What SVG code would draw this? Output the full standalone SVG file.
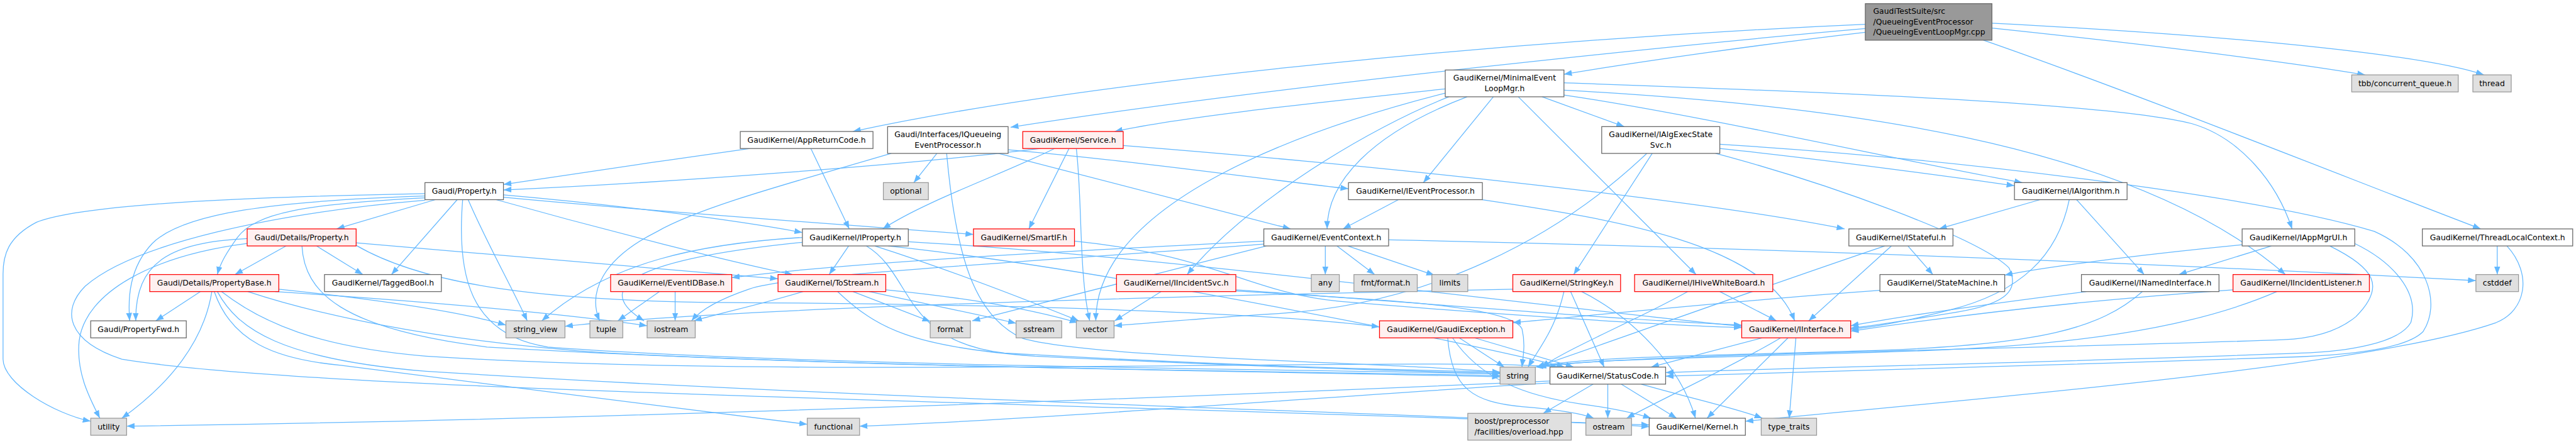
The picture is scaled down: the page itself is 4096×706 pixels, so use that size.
<svg xmlns="http://www.w3.org/2000/svg" width="4096" height="706" viewBox="0 0 4096 706">
<style>
.e{fill:none;stroke:#63b8ff;stroke-width:1.3;marker-end:url(#a)}
.n rect{fill:#fff;stroke:#666;stroke-width:1.3}
.g rect{fill:#e0e0e0;stroke:#999;stroke-width:1.3}
.r rect{fill:#fff0f0;stroke:#f00;stroke-width:1.3}
.t rect{fill:#999;stroke:#666;stroke-width:1.3}
text{font-family:"DejaVu Sans",Verdana,sans-serif;font-size:12.8px;fill:#000;text-anchor:middle}
.l text{text-anchor:start}
</style>
<defs>
<marker id="a" markerUnits="userSpaceOnUse" markerWidth="13" markerHeight="10" refX="12" refY="4.5" orient="auto" viewBox="0 0 12 9"><path d="M0,0L12,4.5L0,9z" fill="#63b8ff"/></marker>
</defs>
<rect width="4096" height="706" fill="#fff"/>
<g transform="scale(0.968)">
<g id="edges">
<path class="e" d="M3064,40 C2500,65 1800,130 1401,216"/>
<path class="e" d="M3064,47 C2800,70 2100,140 1660,209"/>
<path class="e" d="M3064,53 C2900,72 2700,100 2569,122"/>
<path class="e" d="M3272,46 C3500,70 3750,100 3885,123"/>
<path class="e" d="M3272,38 C3700,60 3990,92 4080,123"/>
<path class="e" d="M3258,66 C3500,150 3850,290 4075,376"/>
<path class="e" d="M2374,146 C2200,165 1950,190 1831,216"/>
<path class="e" d="M2374,153 C2150,210 1800,330 1800,527"/>
<path class="e" d="M2380,159 C2250,210 2050,330 1950,451"/>
<path class="e" d="M2410,159 C2250,220 2180,300 2180,376"/>
<path class="e" d="M2453,159 L2338,300"/>
<path class="e" d="M2494,159 L2786,451"/>
<path class="e" d="M2533,159 L2668,208"/>
<path class="e" d="M2569,136 C2900,148 3450,166 3600,203 C3680,226 3740,300 3765,376"/>
<path class="e" d="M2569,148 C3000,172 3500,230 3754,451"/>
<path class="e" d="M2569,156 C2800,190 3150,270 3322,300"/>
<path class="e" d="M1232,244 C1100,262 950,285 827,303"/>
<path class="e" d="M1332,244 L1395,376"/>
<path class="e" d="M1539,252 L1501,300"/>
<path class="e" d="M1464,252 C1300,300 1150,340 1080,380 C990,425 965,480 985,527"/>
<path class="e" d="M1640,252 L2120,376"/>
<path class="e" d="M1656,246 C1900,268 2100,298 2215,310"/>
<path class="e" d="M1555,252 C1570,420 1600,520 1680,556 C1800,590 2300,595 2464,612"/>
<path class="e" d="M1709,244 C1500,270 1100,300 827,312"/>
<path class="e" d="M1732,244 C1650,285 1520,330 1450,376"/>
<path class="e" d="M1756,244 L1690,376"/>
<path class="e" d="M1768,244 C1778,330 1772,450 1790,527"/>
<path class="e" d="M1845,239 C2300,275 2800,330 3030,376"/>
<path class="e" d="M715,328 L553,376"/>
<path class="e" d="M751,328 L643,451"/>
<path class="e" d="M769,328 C800,400 840,470 866,527"/>
<path class="e" d="M760,328 C750,450 770,550 900,570 C1300,600 2000,605 2464,614"/>
<path class="e" d="M698,318 C500,322 150,330 60,365 C12,390 5,420 5,450 L5,590 C5,630 90,680 149,692"/>
<path class="e" d="M698,322 C450,330 300,350 250,400 C212,440 210,490 213,527"/>
<path class="e" d="M698,325 C500,335 420,350 390,390 C372,415 362,432 357,451"/>
<path class="e" d="M698,329 C450,350 220,400 140,470 C100,510 110,560 200,590 C500,640 1500,655 2709,698"/>
<path class="e" d="M827,320 C1000,335 1200,360 1318,382"/>
<path class="e" d="M827,324 C1100,350 1400,370 1599,385"/>
<path class="e" d="M815,328 C1000,380 1200,430 1302,451"/>
<path class="e" d="M470,404 L386,451"/>
<path class="e" d="M406,392 C280,398 222,430 223,527"/>
<path class="e" d="M406,400 C250,420 140,480 130,560 C125,610 145,650 164,687"/>
<path class="e" d="M520,404 L596,451"/>
<path class="e" d="M496,404 C500,480 560,540 800,570 C1400,605 2000,608 2464,617"/>
<path class="e" d="M585,399 C900,425 1150,445 1278,458"/>
<path class="e" d="M585,403 C700,470 900,495 1200,497 C1700,500 2100,515 2266,537"/>
<path class="e" d="M329,479 L256,527"/>
<path class="e" d="M348,479 C335,560 280,630 200,687"/>
<path class="e" d="M458,475 C600,490 750,510 831,534"/>
<path class="e" d="M452,479 C650,492 900,512 1063,535"/>
<path class="e" d="M407,479 C500,510 700,560 1000,580 C1500,605 2100,610 2464,619"/>
<path class="e" d="M364,479 C430,530 520,570 700,585 C1300,625 2350,585 2560,603"/>
<path class="e" d="M357,479 C390,540 460,590 700,610 C1500,660 2400,680 2709,701"/>
<path class="e" d="M352,479 C380,560 450,590 560,600 C800,630 1100,670 1326,697"/>
<path class="e" d="M1109,479 L1109,527"/>
<path class="e" d="M1083,479 L1015,527"/>
<path class="e" d="M1319,479 C1250,500 1180,515 1140,527"/>
<path class="e" d="M1401,479 L1528,528"/>
<path class="e" d="M1428,479 C1500,495 1600,515 1669,531"/>
<path class="e" d="M1455,476 C1600,490 1700,510 1770,530"/>
<path class="e" d="M1376,479 C1440,540 1500,570 1700,585 C2000,600 2300,610 2464,613"/>
<path class="e" d="M1394,404 L1362,451"/>
<path class="e" d="M1318,390 C1150,400 1000,430 890,527"/>
<path class="e" d="M1318,398 C1100,420 950,460 1058,527"/>
<path class="e" d="M1437,404 C1550,440 1680,490 1772,527"/>
<path class="e" d="M1459,404 C1800,440 2400,560 2570,603"/>
<path class="e" d="M1423,404 C1500,450 1480,560 1650,580 C2000,600 2300,608 2464,611"/>
<path class="e" d="M1492,397 C1900,420 2500,500 2861,536"/>
<path class="e" d="M1765,396 C2000,420 2050,480 2200,495 C2500,520 2750,535 2861,538"/>
<path class="e" d="M2177,404 L2177,451"/>
<path class="e" d="M2196,404 L2258,451"/>
<path class="e" d="M2214,404 L2356,452"/>
<path class="e" d="M2076,396 C1800,410 1400,430 1202,456"/>
<path class="e" d="M2076,401 C1700,430 1300,450 1230,475 C1180,492 1150,510 1136,527"/>
<path class="e" d="M2080,404 C1900,450 1700,500 1597,527"/>
<path class="e" d="M2281,394 C2800,405 3500,430 4067,461"/>
<path class="e" d="M2297,328 L2206,376"/>
<path class="e" d="M2435,328 C2650,360 2900,400 2948,527"/>
<path class="e" d="M3411,328 L3522,451"/>
<path class="e" d="M3351,328 L3185,376"/>
<path class="e" d="M3399,328 C3380,420 3320,480 3200,510 C3120,530 3080,537 3040,541"/>
<path class="e" d="M3134,404 L3175,451"/>
<path class="e" d="M3107,404 L2971,527"/>
<path class="e" d="M3096,404 C2900,470 2650,560 2524,603"/>
<path class="e" d="M3088,477 C2900,490 2700,510 2485,530"/>
<path class="e" d="M3427,479 C3300,495 3150,515 3040,535"/>
<path class="e" d="M3519,479 C3450,540 3350,565 3100,575 C2800,585 2600,585 2524,603"/>
<path class="e" d="M3668,476 C3400,495 3200,520 3040,544"/>
<path class="e" d="M3740,479 C3600,540 3400,570 3100,578 C2800,588 2600,590 2527,603"/>
<path class="e" d="M3731,404 L3579,451"/>
<path class="e" d="M3683,402 C3500,420 3350,440 3293,452"/>
<path class="e" d="M3827,404 C3900,440 3920,470 3870,520 C3840,545 3800,556 3750,558 C3300,575 2700,580 2522,603"/>
<path class="e" d="M3868,400 C3930,430 3975,480 3960,530 C3940,565 3850,578 3780,580 C3400,595 2900,605 2736,612"/>
<path class="e" d="M2825,237 C3200,260 3700,320 3900,380 C3990,420 4010,500 3980,545 C3950,575 3850,583 3780,586 C3400,600 2900,612 2736,618"/>
<path class="e" d="M2705,252 C2560,390 2350,500 2100,515 C1980,522 1900,530 1830,535"/>
<path class="e" d="M2714,252 L2585,451"/>
<path class="e" d="M2825,244 C3000,262 3200,290 3309,305"/>
<path class="e" d="M2818,252 C3000,300 3250,390 3300,440 C3320,480 3290,502 3200,515 C3120,528 3080,535 3040,539"/>
<path class="e" d="M4102,404 L4102,451"/>
<path class="e" d="M4118,404 C4160,450 4150,510 4100,530 C3900,600 3300,650 2867,692"/>
<path class="e" d="M2397,555 L2471,603"/>
<path class="e" d="M2422,555 L2585,603"/>
<path class="e" d="M2378,555 C2385,640 2420,660 2500,668 C2560,673 2600,680 2618,687"/>
<path class="e" d="M2386,555 C2430,620 2500,650 2600,664 C2650,671 2690,680 2712,687"/>
<path class="e" d="M2569,479 C2555,540 2530,570 2510,603"/>
<path class="e" d="M2580,479 L2635,603"/>
<path class="e" d="M2598,479 C2680,520 2760,600 2785,687"/>
<path class="e" d="M2485,475 C2000,485 1200,505 928,536"/>
<path class="e" d="M2825,479 L2918,527"/>
<path class="e" d="M2772,479 C2700,520 2580,570 2532,603"/>
<path class="e" d="M1907,479 L1831,527"/>
<path class="e" d="M2030,476 C2300,495 2650,525 2861,534"/>
<path class="e" d="M2030,478 C2250,492 2480,500 2500,540 C2506,565 2502,585 2500,603"/>
<path class="e" d="M2895,555 L2712,603"/>
<path class="e" d="M2925,555 C2850,600 2720,660 2672,687"/>
<path class="e" d="M2937,555 L2804,687"/>
<path class="e" d="M2950,555 L2939,687"/>
<path class="e" d="M2617,631 L2535,679"/>
<path class="e" d="M2641,631 L2641,687"/>
<path class="e" d="M2663,631 L2754,687"/>
<path class="e" d="M2696,631 C2780,655 2850,670 2895,687"/>
<path class="e" d="M2546,629 C2200,650 1700,690 1412,700"/>
<path class="e" d="M2546,626 C2000,650 1000,690 208,700"/>
</g>
<g id="root" class="t l"><rect x="3064" y="6" width="208" height="60"/><text x="3077" y="23">GaudiTestSuite/src</text><text x="3077" y="40">/QueueingEventProcessor</text><text x="3077" y="57">/QueueingEventLoopMgr.cpp</text></g>
<g id="minimal" class="n"><rect x="2374" y="115" width="195" height="44"/><text x="2471.5" y="132">GaudiKernel/MinimalEvent</text><text x="2471.5" y="150">LoopMgr.h</text></g>
<g id="tbb" class="g"><rect x="3863" y="123" width="175" height="28"/><text x="3950.5" y="141.5">tbb/concurrent_queue.h</text></g>
<g id="thread" class="g"><rect x="4062" y="123" width="63" height="28"/><text x="4093.5" y="141.5">thread</text></g>
<g id="appreturncode" class="n"><rect x="1216" y="216" width="218" height="28"/><text x="1325" y="234.5">GaudiKernel/AppReturnCode.h</text></g>
<g id="iqueueing" class="n"><rect x="1458" y="208" width="198" height="44"/><text x="1557" y="225">Gaudi/Interfaces/IQueueing</text><text x="1557" y="243">EventProcessor.h</text></g>
<g id="service" class="r"><rect x="1680" y="216" width="165" height="28"/><text x="1762.5" y="234.5">GaudiKernel/Service.h</text></g>
<g id="ialgexecstatesvc" class="n"><rect x="2631" y="208" width="194" height="44"/><text x="2728" y="225">GaudiKernel/IAlgExecState</text><text x="2728" y="243">Svc.h</text></g>
<g id="property" class="n"><rect x="698" y="300" width="129" height="28"/><text x="762.5" y="318.5">Gaudi/Property.h</text></g>
<g id="optional" class="g"><rect x="1451" y="300" width="74" height="28"/><text x="1488" y="318.5">optional</text></g>
<g id="ieventprocessor" class="n"><rect x="2215" y="300" width="220" height="28"/><text x="2325" y="318.5">GaudiKernel/IEventProcessor.h</text></g>
<g id="ialgorithm" class="n"><rect x="3309" y="300" width="185" height="28"/><text x="3401.5" y="318.5">GaudiKernel/IAlgorithm.h</text></g>
<g id="detailsproperty" class="r"><rect x="406" y="376" width="179" height="28"/><text x="495.5" y="394.5">Gaudi/Details/Property.h</text></g>
<g id="iproperty" class="n"><rect x="1318" y="376" width="174" height="28"/><text x="1405" y="394.5">GaudiKernel/IProperty.h</text></g>
<g id="smartif" class="r"><rect x="1599" y="376" width="166" height="28"/><text x="1682" y="394.5">GaudiKernel/SmartIF.h</text></g>
<g id="eventcontext" class="n"><rect x="2076" y="376" width="205" height="28"/><text x="2178.5" y="394.5">GaudiKernel/EventContext.h</text></g>
<g id="istateful" class="n"><rect x="3037" y="376" width="171" height="28"/><text x="3122.5" y="394.5">GaudiKernel/IStateful.h</text></g>
<g id="iappmgrui" class="n"><rect x="3683" y="376" width="185" height="28"/><text x="3775.5" y="394.5">GaudiKernel/IAppMgrUI.h</text></g>
<g id="threadlocalcontext" class="n"><rect x="3979" y="376" width="247" height="28"/><text x="4102.5" y="394.5">GaudiKernel/ThreadLocalContext.h</text></g>
<g id="propertybase" class="r"><rect x="246" y="451" width="212" height="28"/><text x="352" y="469.5">Gaudi/Details/PropertyBase.h</text></g>
<g id="taggedbool" class="n"><rect x="533" y="451" width="192" height="28"/><text x="629" y="469.5">GaudiKernel/TaggedBool.h</text></g>
<g id="eventidbase" class="r"><rect x="1003" y="451" width="199" height="28"/><text x="1102.5" y="469.5">GaudiKernel/EventIDBase.h</text></g>
<g id="tostream" class="r"><rect x="1278" y="451" width="177" height="28"/><text x="1366.5" y="469.5">GaudiKernel/ToStream.h</text></g>
<g id="iincidentsvc" class="r"><rect x="1834" y="451" width="196" height="28"/><text x="1932" y="469.5">GaudiKernel/IIncidentSvc.h</text></g>
<g id="any" class="g"><rect x="2154" y="451" width="46" height="28"/><text x="2177" y="469.5">any</text></g>
<g id="fmtformat" class="g"><rect x="2224" y="451" width="104" height="28"/><text x="2276" y="469.5">fmt/format.h</text></g>
<g id="limits" class="g"><rect x="2352" y="451" width="59" height="28"/><text x="2381.5" y="469.5">limits</text></g>
<g id="stringkey" class="r"><rect x="2485" y="451" width="177" height="28"/><text x="2573.5" y="469.5">GaudiKernel/StringKey.h</text></g>
<g id="ihivewhiteboard" class="r"><rect x="2685" y="451" width="227" height="28"/><text x="2798.5" y="469.5">GaudiKernel/IHiveWhiteBoard.h</text></g>
<g id="statemachine" class="n"><rect x="3088" y="451" width="205" height="28"/><text x="3190.5" y="469.5">GaudiKernel/StateMachine.h</text></g>
<g id="inamedinterface" class="n"><rect x="3419" y="451" width="226" height="28"/><text x="3532" y="469.5">GaudiKernel/INamedInterface.h</text></g>
<g id="iincidentlistener" class="r"><rect x="3668" y="451" width="224" height="28"/><text x="3780" y="469.5">GaudiKernel/IIncidentListener.h</text></g>
<g id="cstddef" class="g"><rect x="4067" y="451" width="70" height="28"/><text x="4102" y="469.5">cstddef</text></g>
<g id="propertyfwd" class="n"><rect x="149" y="527" width="157" height="28"/><text x="227.5" y="545.5">Gaudi/PropertyFwd.h</text></g>
<g id="string_view" class="g"><rect x="831" y="527" width="97" height="28"/><text x="879.5" y="545.5">string_view</text></g>
<g id="tuple" class="g"><rect x="969" y="527" width="54" height="28"/><text x="996" y="545.5">tuple</text></g>
<g id="iostream" class="g"><rect x="1063" y="527" width="79" height="28"/><text x="1102.5" y="545.5">iostream</text></g>
<g id="format" class="g"><rect x="1528" y="527" width="66" height="28"/><text x="1561" y="545.5">format</text></g>
<g id="sstream" class="g"><rect x="1669" y="527" width="75" height="28"/><text x="1706.5" y="545.5">sstream</text></g>
<g id="vector" class="g"><rect x="1768" y="527" width="62" height="28"/><text x="1799" y="545.5">vector</text></g>
<g id="gaudiexception" class="r"><rect x="2266" y="527" width="219" height="28"/><text x="2375.5" y="545.5">GaudiKernel/GaudiException.h</text></g>
<g id="iinterface" class="r"><rect x="2861" y="527" width="179" height="28"/><text x="2950.5" y="545.5">GaudiKernel/IInterface.h</text></g>
<g id="string" class="g"><rect x="2464" y="603" width="58" height="28"/><text x="2493" y="621.5">string</text></g>
<g id="statuscode" class="n"><rect x="2546" y="603" width="190" height="28"/><text x="2641" y="621.5">GaudiKernel/StatusCode.h</text></g>
<g id="utility" class="g"><rect x="149" y="687" width="59" height="28"/><text x="178.5" y="705.5">utility</text></g>
<g id="functional" class="g"><rect x="1326" y="687" width="86" height="28"/><text x="1369" y="705.5">functional</text></g>
<g id="boost" class="g l"><rect x="2411" y="679" width="170" height="44"/><text x="2422" y="696">boost/preprocessor</text><text x="2422" y="714">/facilities/overload.hpp</text></g>
<g id="ostream" class="g"><rect x="2605" y="687" width="75" height="28"/><text x="2642.5" y="705.5">ostream</text></g>
<g id="kernel" class="n"><rect x="2709" y="687" width="158" height="28"/><text x="2788" y="705.5">GaudiKernel/Kernel.h</text></g>
<g id="type_traits" class="g"><rect x="2893" y="687" width="91" height="28"/><text x="2938.5" y="705.5">type_traits</text></g>
</g>
</svg>
